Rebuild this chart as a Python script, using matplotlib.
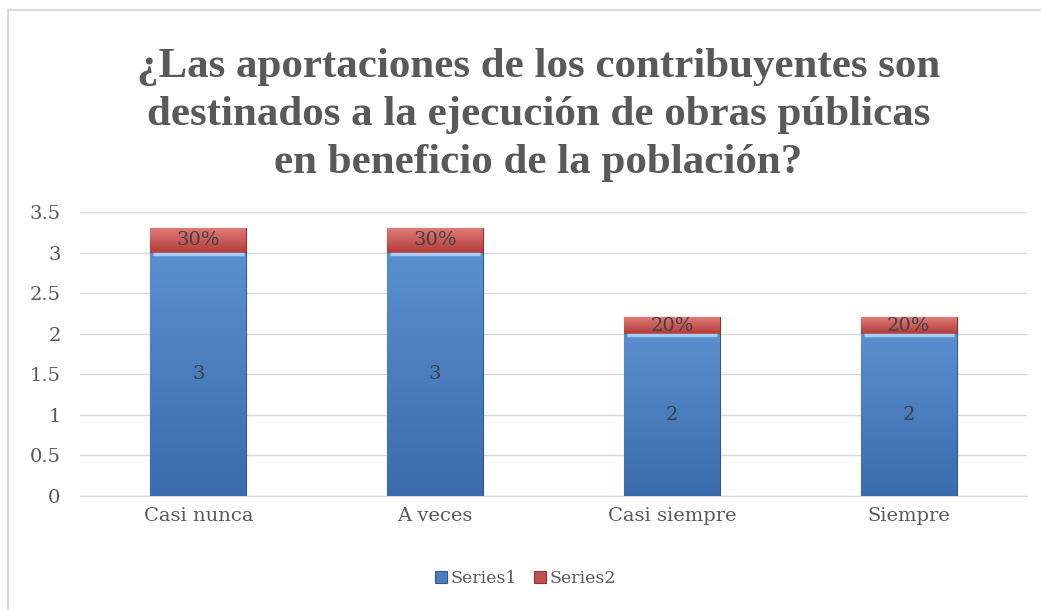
import numpy as np
import matplotlib
matplotlib.use("Agg")
import matplotlib.pyplot as plt
from matplotlib.colors import LinearSegmentedColormap

# data
categories = ["Casi nunca", "A veces", "Casi siempre", "Siempre"]
series1 = [3, 3, 2, 2]
series2 = [0.3, 0.3, 0.2, 0.2]
yticks = [0, 0.5, 1, 1.5, 2, 2.5, 3, 3.5]
title = ("¿Las aportaciones de los contribuyentes son\n"
         "destinados a la ejecución de obras públicas\n"
         "en beneficio de la población?")

txt = "#595959"
serif = ["DejaVu Serif"]

fig = plt.figure(figsize=(10.41, 6.10), dpi=100)
ax = fig.add_axes([0.0769, 0.1869, 0.9097, 0.4656])

x = np.arange(len(categories))
w = 0.405
b1 = ax.bar(x, series1, w, color="#4a7ebf", edgecolor="#2f5a8f", linewidth=0.8, zorder=3, label="Series1")
b2 = ax.bar(x, series2, w, bottom=series1, color="#c0504d", edgecolor="#8c3230", linewidth=0.8, zorder=3, label="Series2")

# soft gradient fill inside bars
blue_cm = LinearSegmentedColormap.from_list("b", ["#3a6cad", "#5a8fd0"])
red_cm = LinearSegmentedColormap.from_list("r", ["#b03c39", "#e07a77"])
grad = np.linspace(0, 1, 64).reshape(-1, 1)
for bars, cm in ((b1, blue_cm), (b2, red_cm)):
    for p in bars:
        x0, y0 = p.get_x(), p.get_y()
        im = ax.imshow(grad, cmap=cm, aspect="auto", origin="lower",
                       extent=[x0, x0 + p.get_width(), y0, y0 + p.get_height()], zorder=3.5)
        im.set_clip_path(p)
# bevel highlight at the top of blue part
for p in b1:
    ax.plot([p.get_x() + 0.012, p.get_x() + p.get_width() - 0.012],
            [p.get_height() - 0.02] * 2, color="#a9cdf2", lw=2.5, zorder=4, solid_capstyle="butt")

for i in range(len(categories)):
    ax.text(x[i], series1[i] / 2, f"{series1[i]}", ha="center", va="center",
            fontsize=14, color="#404040", family=serif, zorder=5)
    ax.text(x[i], series1[i] + series2[i] / 2, f"{series2[i]:.0%}", ha="center", va="center",
            fontsize=14, color="#404040", family=serif, zorder=5)

ax.set_xlim(-0.5, len(categories) - 0.5)
ax.set_ylim(0, 3.5)
ax.set_yticks(yticks)
ax.set_yticklabels([f"{v:g}" for v in yticks])
ax.set_xticks(x)
ax.set_xticklabels(categories)
ax.grid(axis="y", color="#d9d9d9", lw=1, zorder=0)
ax.set_axisbelow(True)
for s in ("top", "right", "left"):
    ax.spines[s].set_visible(False)
ax.spines["bottom"].set_color("#d9d9d9")
ax.tick_params(length=0, labelsize=14, labelcolor=txt, pad=8)
ax.tick_params(axis="y", pad=14)
for t in ax.get_xticklabels() + ax.get_yticklabels():
    t.set_family(serif)
ax.set_facecolor("none")

fig.text(0.517, 0.811, title, ha="center", va="center", fontsize=31, fontweight="bold",
         color=txt, family=["Liberation Serif"], linespacing=1.34)

leg = ax.legend(handles=[b1, b2], loc="center", bbox_to_anchor=(0.505, 0.052),
                bbox_transform=fig.transFigure, ncol=2, frameon=False,
                prop={"family": serif, "size": 12.5}, handlelength=0.7, handleheight=0.7,
                handletextpad=0.2, columnspacing=1.0)
for t in leg.get_texts():
    t.set_color(txt)

# chart border (top and left visible)
fig.add_artist(plt.Line2D([0.0077, 0.0077], [0, 0.984], color="#d9d9d9", lw=1.5))
fig.add_artist(plt.Line2D([0.0077, 1.0], [0.984, 0.984], color="#d9d9d9", lw=1.5))

fig.savefig("out.png", dpi=100)
